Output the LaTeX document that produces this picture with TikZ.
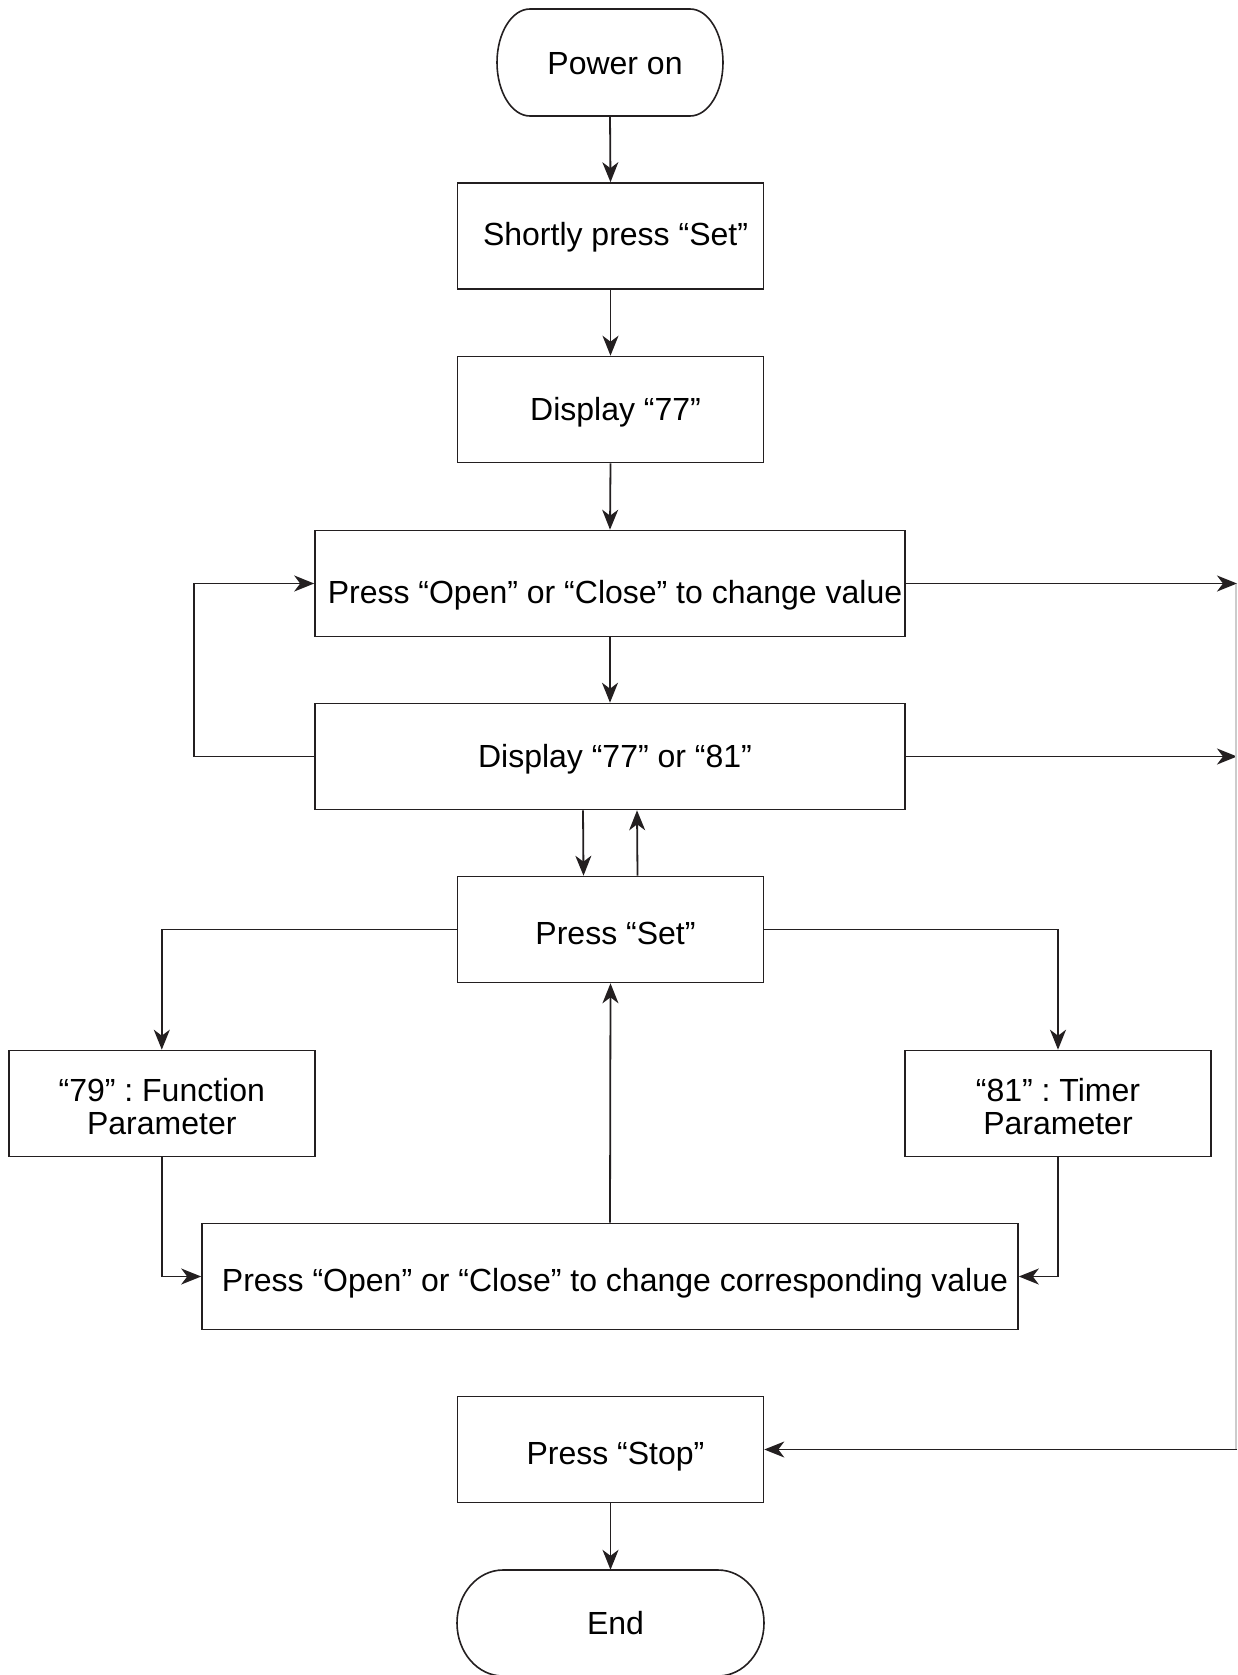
\documentclass[tikz,border=0pt]{standalone}
\usepackage{fontspec}
\setmainfont{Liberation Sans}
\usetikzlibrary{arrows.meta}
\definecolor{ink}{HTML}{231F20}
\frenchspacing
\begin{document}
\begin{tikzpicture}[x=1pt,y=-1pt,
  lbl/.style={font=\fontsize{32}{33.5}\selectfont, text=black, inner sep=0pt, align=center},
  box/.style={draw=ink, line width=1.6pt, inner sep=0pt, minimum width=306pt, minimum height=106pt},
  widebox/.style={box, minimum width=590pt},
  term/.style={inner sep=0pt, minimum width=#1, minimum height=106pt},
  conn/.style={draw=ink, line width=1.8pt, -{Stealth[length=20pt,width=16pt,inset=6pt]}},
  plain/.style={draw=ink, line width=1.8pt}]
\useasboundingbox (0,0) rectangle (1237,1675);

% terminals
\draw[ink, line width=1.6pt] (530,9) -- (690,9) .. controls (708.2,9) and (723,33) .. (723,62.5) .. controls (723,92) and (708.2,116) .. (690,116) -- (530,116) .. controls (511.8,116) and (497,92) .. (497,62.5) .. controls (497,33) and (511.8,9) .. (530,9) -- cycle;
\node[term=226pt] (power) at (610,62.5) {};
\node[lbl] (powerT) at ([shift={(5,1)}]power.center) {Power on};

\draw[ink, line width=1.6pt] (503,1570) -- (718,1570) .. controls (743.4,1570) and (764,1593.7) .. (764,1623) .. controls (764,1652.3) and (743.4,1676) .. (718,1676) -- (503,1676) .. controls (477.6,1676) and (457,1652.3) .. (457,1623) .. controls (457,1593.7) and (477.6,1570) .. (503,1570) -- cycle;
\node[term=307pt] (end) at (610.5,1623) {};
\node[lbl] (endT) at ([shift={(5,0)}]end.center) {End};

% boxes
\node[box] (short) at (610.5,236) {};
\node[lbl] (shortT) at ([shift={(5,1.5)}]short.center) {Shortly press “Set”};
\node[box] (d77) at (610.5,409.5) {};
\node[lbl] (d77T) at ([shift={(5,2.5)}]d77.center) {Display “77”};
\node[widebox] (poc) at (610,583.5) {};
\node[lbl] (pocT) at ([shift={(5,11.5)}]poc.center) {Press “Open” or “Close” to change value};
\node[widebox] (d7781) at (610,756.5) {};
\node[lbl] (d7781T) at ([shift={(5,2.5)}]d7781.center) {Display “77” or “81”};
\node[box] (pset) at (610.5,929.5) {};
\node[lbl] (psetT) at ([shift={(5,3.5)}]pset.center) {Press “Set”};
\node[box] (f79) at (161.8,1103.5) {};
\node[lbl] (f79T) at ([shift={(0,3)}]f79.center) {“79” : Function\\Parameter};
\node[box] (t81) at (1058,1103.5) {};
\node[lbl] (t81T) at ([shift={(0,3)}]t81.center) {“81” : Timer\\Parameter};
\node[box, minimum width=816pt] (corr) at (610,1276.5) {};
\node[lbl] (corrT) at ([shift={(5,6.5)}]corr.center) {Press “Open” or “Close” to change corresponding value};
\node[box] (stop) at (610.5,1449.5) {};
\node[lbl] (stopT) at ([shift={(5,7.5)}]stop.center) {Press “Stop”};

% right edge coordinates
\coordinate (r1) at (1237,583.5);
\coordinate (r2) at (1237,756.5);
\coordinate (r3) at (1237,1449.5);

% connectors
\draw[conn] (power.south) -- (short.north);
\draw[conn] (short.south) -- (d77.north);
\draw[conn] (d77.south) -- (poc.north);
\draw[conn] (poc.south) -- (d7781.north);
\draw[conn] ([xshift=-27pt]d7781.south) -- ([xshift=-27pt]pset.north);
\draw[conn] ([xshift=27pt]pset.north) -- ([xshift=27pt]d7781.south);
\draw[conn] (pset.west) -| (f79.north);
\draw[conn] (pset.east) -| (t81.north);
\draw[conn] (f79.south) |- (corr.west);
\draw[conn] (t81.south) |- (corr.east);
\draw[conn] (corr.north) -- (pset.south);
\draw[conn] (d7781.west) -- ++(-120,0) |- (poc.west);
\draw[conn] (poc.east) -- (r1);
\draw[conn] (d7781.east) -- (r2);
\draw[draw=black!20, line width=1.2pt] ([xshift=-1pt]r1) -- ([xshift=-1pt]r3);
\draw[conn] (r3) -- (stop.east);
\draw[conn] (stop.south) -- (end.north);
\end{tikzpicture}
\end{document}
